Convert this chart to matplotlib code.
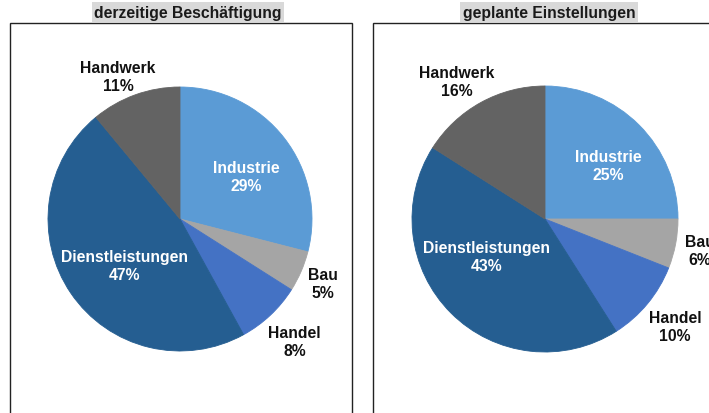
import matplotlib.pyplot as plt
import numpy as np
from matplotlib.patches import Rectangle

plt.rcParams["font.family"] = ["Liberation Sans", "DejaVu Sans"]

categories = ["Industrie", "Bau", "Handel", "Dienstleistungen", "Handwerk"]
current_share = [29, 5, 8, 47, 11]
planned_share = [25, 6, 10, 43, 16]
titles = ["derzeitige Beschäftigung", "geplante Einstellungen"]

colors = ["#5b9bd5", "#a5a5a5", "#4472c4", "#255e91", "#636363"]
label_colors = ["white", "#111111", "#111111", "white", "#111111"]

W, H = 709, 414
FONT = 11.3


def px(y):
    # convert a top-down pixel row into the y-up axis coordinate
    return H - y


def draw_panel(ax, values, title, center, radius, box, title_box, dist, shift):
    x0, y0, x1 = box
    ax.add_patch(Rectangle((x0, px(H + 20)), x1 - x0, (H + 20) - y0,
                           fill=False, edgecolor="#222222", lw=1.0, zorder=1))
    tx0, ty0, tx1, ty1 = title_box
    ax.add_patch(Rectangle((tx0, px(ty1)), tx1 - tx0, ty1 - ty0,
                           facecolor="#d9d9d9", edgecolor="none", zorder=2))
    ax.text((tx0 + tx1) / 2, px((ty0 + ty1) / 2), title, ha="center", va="center",
            fontsize=FONT, fontweight="bold", color="#1a1a1a", zorder=3)

    cx, cy = center
    wedges, _ = ax.pie(values, colors=colors, startangle=90, counterclock=False,
                       center=(cx, px(cy)), radius=radius, frame=True,
                       wedgeprops=dict(linewidth=0.6, zorder=2))
    for w, c in zip(wedges, colors):
        w.set_edgecolor(c)
    for w, name, v, lc, d, s in zip(wedges, categories, values, label_colors, dist, shift):
        ang = np.deg2rad((w.theta1 + w.theta2) / 2 + s)
        lx = cx + radius * d * np.cos(ang)
        ly = px(cy) + radius * d * np.sin(ang)
        ax.text(lx, ly, f"{name}\n{v}%", ha="center", va="center", color=lc,
                fontsize=FONT, fontweight="bold", linespacing=1.25, zorder=4)


fig = plt.figure(figsize=(W / 100, H / 100), dpi=100)
ax = fig.add_axes([0, 0, 1, 1])

draw_panel(ax, current_share, titles[0], (180, 220), 132,
           (9.5, 23.5, 352.5), (92, 3, 284, 23),
           [0.60, 1.19, 1.27, 0.55, 1.18], [-5, -1, 0, 6, 3.6])
draw_panel(ax, planned_share, titles[1], (545, 220), 133,
           (373, 23.5, 720), (460, 3, 638, 23),
           [0.62, 1.19, 1.27, 0.52, 1.23], [-5, -0.5, 0, -12.5, 4])

ax.set_xlim(0, W)
ax.set_ylim(0, H)
ax.set_aspect("equal")
ax.axis("off")

fig.savefig("out.png", dpi=100)
